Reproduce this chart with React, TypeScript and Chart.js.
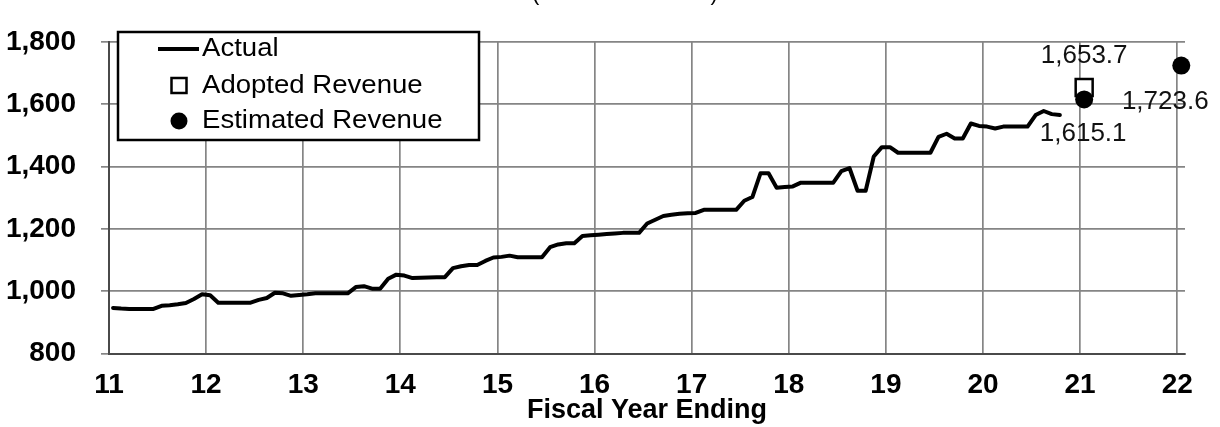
import { useEffect, useRef } from "react";
import { Chart, registerables } from "chart.js";

Chart.register(...registerables);

// ---------- data ----------
const chartTitle = "(Dollars in Millions)";
const xAxisTitle = "Fiscal Year Ending";
const seriesNames = ["Actual", "Adopted Revenue", "Estimated Revenue"];

const fiscalYearTicks = [11, 12, 13, 14, 15, 16, 17, 18, 19, 20, 21, 22];
const yMin = 800;
const yMax = 1800;
const yStep = 200;

// monthly actual revenue, one array per fiscal year
const actualFY11 = [946, 944, 943, 943, 943, 943, 953, 955, 958, 962, 975, 990];
const actualFY12 = [987, 963, 963, 963, 963, 963, 972, 978, 995, 993, 985, 988];
const actualFY13 = [990, 993, 993, 993, 993, 993, 1013, 1016, 1008, 1008, 1040, 1053];
const actualFY14 = [1050, 1042, 1043, 1044, 1045, 1045, 1074, 1080, 1084, 1084, 1097, 1108];
const actualFY15 = [1110, 1114, 1109, 1109, 1109, 1109, 1141, 1150, 1154, 1154, 1177, 1179];
const actualFY16 = [1181, 1183, 1185, 1187, 1187, 1187, 1217, 1229, 1241, 1245, 1248, 1250];
const actualFY17 = [1251, 1261, 1261, 1261, 1261, 1261, 1290, 1302, 1378, 1378, 1332, 1334];
const actualFY18 = [1336, 1348, 1348, 1348, 1348, 1348, 1385, 1395, 1322, 1322, 1432, 1462];
const actualFY19 = [1462, 1444, 1444, 1444, 1444, 1444, 1495, 1505, 1490, 1490, 1538, 1530];
const actualFY20 = [1528, 1522, 1528, 1528, 1528, 1528, 1565, 1578, 1568, 1565];

const actualYears = [11, 12, 13, 14, 15, 16, 17, 18, 19, 20];
const actualByYear = [
  actualFY11, actualFY12, actualFY13, actualFY14, actualFY15,
  actualFY16, actualFY17, actualFY18, actualFY19, actualFY20,
];

const adoptedYears = [21];
const adoptedRevenue = [1653.7];

const estimatedYears = [21, 22];
const estimatedRevenue = [1615.1, 1723.6];

// ---------- helpers ----------
const FONT = "'Liberation Sans', Arial, Helvetica, sans-serif";
const midMonth = (fy: number, m: number) => fy + (m + 0.5) / 12;
const fmt = (v: number, d = 0) =>
  v.toLocaleString("en-US", { minimumFractionDigits: d, maximumFractionDigits: d });

const actualPoints = actualByYear.flatMap((vals, k) =>
  vals.map((v, m) => ({ x: midMonth(actualYears[k], m), y: v }))
);
const adoptedPoints = adoptedRevenue.map((v, i) => ({ x: midMonth(adoptedYears[i], 0), y: v }));
const estimatedPoints = estimatedRevenue.map((v, i) => ({ x: midMonth(estimatedYears[i], 0), y: v }));

// label placement (style only): [dataset index, point index, dx, dy(baseline)]
const labelPlacement: [number, number, number, number][] = [
  [1, 0, 0, -24],
  [2, 0, -1, 42],
  [2, 1, -16, 43],
];

const titlePlugin = {
  id: "cutTitle",
  afterDraw(chart: any) {
    const { ctx } = chart;
    ctx.save();
    ctx.font = `22px ${FONT}`;
    ctx.fillStyle = "#000";
    ctx.textAlign = "center";
    ctx.textBaseline = "alphabetic";
    ctx.fillText(chartTitle, 625, 0);
    ctx.restore();
  },
};

const valueLabelPlugin = {
  id: "valueLabels",
  afterDatasetsDraw(chart: any) {
    const { ctx } = chart;
    const xs = chart.scales.x;
    const ys = chart.scales.y;
    ctx.save();
    ctx.font = `26px ${FONT}`;
    ctx.fillStyle = "#111";
    ctx.textAlign = "center";
    ctx.textBaseline = "alphabetic";
    labelPlacement.forEach(([di, pi, dx, dy]) => {
      const p = chart.data.datasets[di].data[pi];
      const px = xs.getPixelForValue(p.x);
      const py = ys.getPixelForValue(p.y);
      ctx.fillText(fmt(p.y, 1), px + dx, py + dy);
    });
    ctx.restore();
  },
};

const legendPlugin = {
  id: "boxLegend",
  afterDraw(chart: any) {
    const { ctx } = chart;
    const box = { l: 118, t: 32, r: 479, b: 140 };
    ctx.save();
    ctx.fillStyle = "#fff";
    ctx.fillRect(box.l, box.t, box.r - box.l, box.b - box.t);
    ctx.strokeStyle = "#000";
    ctx.lineWidth = 2.5;
    ctx.strokeRect(box.l, box.t, box.r - box.l, box.b - box.t);

    const rows = [49, 85.5, 121];
    const ds = chart.data.datasets;
    // Actual line sample
    ctx.strokeStyle = ds[0].borderColor;
    ctx.lineWidth = 4;
    ctx.beginPath();
    ctx.moveTo(158, rows[0]);
    ctx.lineTo(199, rows[0]);
    ctx.stroke();
    // Adopted square
    ctx.fillStyle = ds[1].pointBackgroundColor;
    ctx.strokeStyle = ds[1].pointBorderColor;
    ctx.lineWidth = 2.5;
    ctx.fillRect(171.5, rows[1] - 7.5, 15, 15);
    ctx.strokeRect(171.5, rows[1] - 7.5, 15, 15);
    // Estimated circle
    ctx.fillStyle = ds[2].pointBackgroundColor;
    ctx.beginPath();
    ctx.arc(179, rows[2], 8.5, 0, Math.PI * 2);
    ctx.fill();

    ctx.fillStyle = "#000";
    ctx.font = `26px ${FONT}`;
    ctx.textAlign = "left";
    ctx.textBaseline = "middle";
    seriesNames.forEach((name, i) => {
      ctx.save();
      ctx.translate(202, rows[i]);
      ctx.scale(1.06, 1);
      ctx.fillText(name, 0, 0);
      ctx.restore();
    });
    ctx.restore();
  },
};

export default function App() {
  const ref = useRef<HTMLCanvasElement | null>(null);

  useEffect(() => {
    if (!ref.current) return;
    const gridColor = "#858585";
    const axisColor = "#4a4a4a";
    const chart = new Chart(ref.current, {
      type: "line",
      data: {
        datasets: [
          {
            label: seriesNames[0],
            data: actualPoints,
            borderColor: "#000",
            borderWidth: 4,
            pointRadius: 0,
            tension: 0,
            borderJoinStyle: "round",
            borderCapStyle: "round",
            order: 2,
          },
          {
            label: seriesNames[1],
            data: adoptedPoints,
            showLine: false,
            pointStyle: "rect",
            pointRadius: 12,
            pointBorderWidth: 2.5,
            pointBorderColor: "#000",
            pointBackgroundColor: "#fff",
            order: 1,
          },
          {
            label: seriesNames[2],
            data: estimatedPoints,
            showLine: false,
            pointStyle: "circle",
            pointRadius: 9,
            pointBorderWidth: 0,
            pointBorderColor: "#000",
            pointBackgroundColor: "#000",
            order: 0,
          },
        ] as any,
      },
      options: {
        responsive: false,
        devicePixelRatio: 1,
        animation: false,
        clip: false as any,
        layout: { padding: { top: 19.5, right: 35, left: 0, bottom: 0 } },
        plugins: {
          legend: { display: false },
          tooltip: { enabled: false },
          title: { display: false },
        },
        scales: {
          x: {
            type: "linear",
            min: 11,
            max: 22.08,
            afterBuildTicks: (s: any) => {
              s.ticks = fiscalYearTicks.map((v) => ({ value: v }));
            },
            afterFit: (s: any) => {
              s.height = 73.5;
            },
            ticks: {
              autoSkip: false,
              maxRotation: 0,
              padding: 15,
              color: "#000",
              font: { family: FONT, size: 28, weight: "bold" },
              callback: (v: any) => String(v),
            },
            grid: { color: gridColor, lineWidth: 1.7, drawTicks: false, tickLength: 0 },
            border: { color: axisColor, width: 2 },
            title: {
              display: true,
              text: xAxisTitle,
              color: "#000",
              font: { family: FONT, size: 27, weight: "bold" },
              padding: { top: 0, bottom: 0 },
            },
          },
          y: {
            type: "linear",
            min: yMin,
            max: yMax,
            afterFit: (s: any) => {
              s.width = 109;
            },
            ticks: {
              stepSize: yStep,
              padding: 25,
              color: "#000",
              font: { family: FONT, size: 28, weight: "bold" },
              callback: (v: any) => fmt(Number(v)),
            },
            grid: { color: gridColor, lineWidth: 1.7, drawTicks: true, tickLength: 8 },
            border: { color: axisColor, width: 2 },
          },
        },
      } as any,
      plugins: [titlePlugin, valueLabelPlugin, legendPlugin],
    });
    return () => chart.destroy();
  }, []);

  return (
    <div style={{ position: "fixed", left: 0, top: 0, width: 1220, height: 427, background: "#fff" }}>
      <canvas ref={ref} width={1220} height={427} style={{ width: 1220, height: 427, display: "block" }} />
    </div>
  );
}
